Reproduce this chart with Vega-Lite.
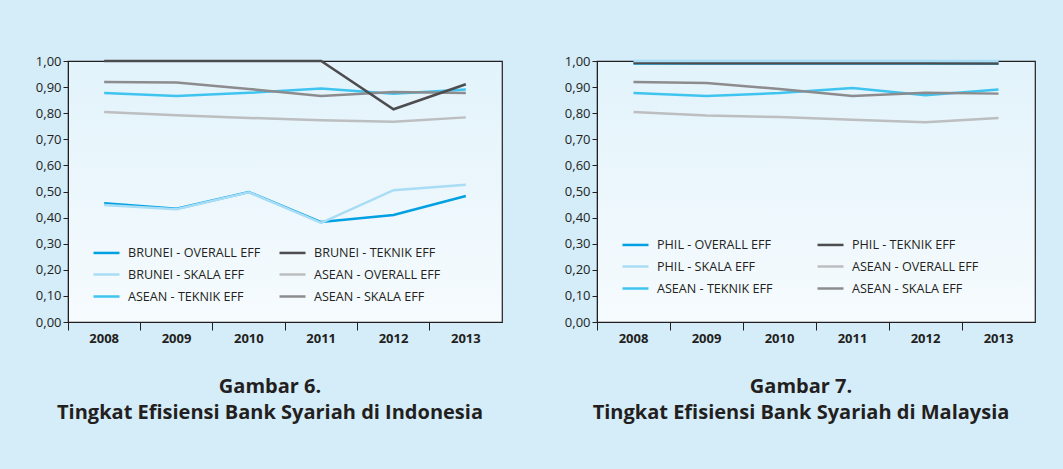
{
  "$schema": "https://vega.github.io/schema/vega-lite/v6.json",
  "background": "#D5ECF9",
  "padding": {"left": 34, "top": 54, "right": 27, "bottom": 47},
  "spacing": 60,
  "config": {
    "font": "Open Sans",
    "view": {"stroke": "#231f20", "strokeWidth": 1.2, "fill": {"gradient": "linear", "x1": 0, "y1": 0, "x2": 0, "y2": 1, "stops": [{"offset": 0, "color": "#E2F3FB"}, {"offset": 1, "color": "#F6FBFE"}]}},
    "axis": {"domainColor": "#231f20", "tickColor": "#231f20", "labelColor": "#231f20", "labelFont": "Open Sans", "grid": false, "title": null, "labelOverlap": false},
    "legend": {"orient": "none", "legendX": 24, "columns": 2, "symbolType": "stroke", "symbolSize": 676, "symbolStrokeWidth": 3, "labelFontSize": 12.6, "labelColor": "#231f20", "labelFont": "Open Sans", "labelOffset": 7, "rowPadding": -7, "padding": 0, "title": null, "labelLimit": 300},
    "title": {"orient": "bottom", "anchor": "middle", "dx": -15, "fontSize": 20, "fontWeight": "bold", "color": "#231f20", "font": "Open Sans", "lineHeight": 26, "offset": 32},
    "line": {"strokeWidth": 2.5}
  },
  "hconcat": [
    {
      "width": 434,
      "height": 261,
      "title": {"text": ["Gambar 6.", "Tingkat Efisiensi Bank Syariah di Indonesia"]},
      "data": {"values": [
        {"year": "2008", "series": "BRUNEI - OVERALL EFF", "value": 0.455},
        {"year": "2009", "series": "BRUNEI - OVERALL EFF", "value": 0.434},
        {"year": "2010", "series": "BRUNEI - OVERALL EFF", "value": 0.498},
        {"year": "2011", "series": "BRUNEI - OVERALL EFF", "value": 0.383},
        {"year": "2012", "series": "BRUNEI - OVERALL EFF", "value": 0.410},
        {"year": "2013", "series": "BRUNEI - OVERALL EFF", "value": 0.483},
        {"year": "2008", "series": "BRUNEI - SKALA EFF", "value": 0.448},
        {"year": "2009", "series": "BRUNEI - SKALA EFF", "value": 0.432},
        {"year": "2010", "series": "BRUNEI - SKALA EFF", "value": 0.497},
        {"year": "2011", "series": "BRUNEI - SKALA EFF", "value": 0.380},
        {"year": "2012", "series": "BRUNEI - SKALA EFF", "value": 0.505},
        {"year": "2013", "series": "BRUNEI - SKALA EFF", "value": 0.526},
        {"year": "2008", "series": "ASEAN - OVERALL EFF", "value": 0.805},
        {"year": "2009", "series": "ASEAN - OVERALL EFF", "value": 0.792},
        {"year": "2010", "series": "ASEAN - OVERALL EFF", "value": 0.782},
        {"year": "2011", "series": "ASEAN - OVERALL EFF", "value": 0.773},
        {"year": "2012", "series": "ASEAN - OVERALL EFF", "value": 0.767},
        {"year": "2013", "series": "ASEAN - OVERALL EFF", "value": 0.784},
        {"year": "2008", "series": "ASEAN - TEKNIK EFF", "value": 0.877},
        {"year": "2009", "series": "ASEAN - TEKNIK EFF", "value": 0.866},
        {"year": "2010", "series": "ASEAN - TEKNIK EFF", "value": 0.878},
        {"year": "2011", "series": "ASEAN - TEKNIK EFF", "value": 0.895},
        {"year": "2012", "series": "ASEAN - TEKNIK EFF", "value": 0.875},
        {"year": "2013", "series": "ASEAN - TEKNIK EFF", "value": 0.891},
        {"year": "2008", "series": "ASEAN - SKALA EFF", "value": 0.920},
        {"year": "2009", "series": "ASEAN - SKALA EFF", "value": 0.918},
        {"year": "2010", "series": "ASEAN - SKALA EFF", "value": 0.893},
        {"year": "2011", "series": "ASEAN - SKALA EFF", "value": 0.866},
        {"year": "2012", "series": "ASEAN - SKALA EFF", "value": 0.881},
        {"year": "2013", "series": "ASEAN - SKALA EFF", "value": 0.877},
        {"year": "2008", "series": "BRUNEI - TEKNIK EFF", "value": 1.0},
        {"year": "2009", "series": "BRUNEI - TEKNIK EFF", "value": 1.0},
        {"year": "2010", "series": "BRUNEI - TEKNIK EFF", "value": 1.0},
        {"year": "2011", "series": "BRUNEI - TEKNIK EFF", "value": 1.0},
        {"year": "2012", "series": "BRUNEI - TEKNIK EFF", "value": 0.815},
        {"year": "2013", "series": "BRUNEI - TEKNIK EFF", "value": 0.911}
      ]},
      "mark": {"type": "line", "clip": false},
      "encoding": {
        "x": {"field": "year", "type": "ordinal", "bandPosition": 0.5, "scale": {"type": "band", "paddingInner": 0, "paddingOuter": 0}, "axis": {"bandPosition": 0, "labelAlign": "center", "labelFontWeight": "bold", "labelFontSize": 13, "labelAngle": 0, "tickSize": 8, "labelPadding": 2}},
        "y": {"field": "value", "type": "quantitative", "scale": {"domain": [0, 1], "nice": false}, "axis": {"values": [0, 0.1, 0.2, 0.3, 0.4, 0.5, 0.6, 0.7, 0.8, 0.9, 1.0], "labelExpr": "replace(format(datum.value, '.2f'), '.', ',')", "labelFontSize": 13, "tickSize": 5, "labelPadding": 2}},
        "color": {"field": "series", "type": "nominal", "scale": {"domain": ["BRUNEI - OVERALL EFF", "BRUNEI - SKALA EFF", "ASEAN - TEKNIK EFF", "BRUNEI - TEKNIK EFF", "ASEAN - OVERALL EFF", "ASEAN - SKALA EFF"], "range": ["#00A0E3", "#A9DDF5", "#3FC4F0", "#4D4D4F", "#BCBEC0", "#8C8C8E"]}, "sort": null, "legend": {"legendY": 177, "columnPadding": 13}}
      }
    },
    {
      "width": 438,
      "height": 261,
      "title": {"text": ["Gambar 7.", "Tingkat Efisiensi Bank Syariah di Malaysia"]},
      "data": {"values": [
        {"year": "2008", "series": "ASEAN - OVERALL EFF", "value": 0.805},
        {"year": "2009", "series": "ASEAN - OVERALL EFF", "value": 0.791},
        {"year": "2010", "series": "ASEAN - OVERALL EFF", "value": 0.785},
        {"year": "2011", "series": "ASEAN - OVERALL EFF", "value": 0.775},
        {"year": "2012", "series": "ASEAN - OVERALL EFF", "value": 0.765},
        {"year": "2013", "series": "ASEAN - OVERALL EFF", "value": 0.782},
        {"year": "2008", "series": "ASEAN - TEKNIK EFF", "value": 0.877},
        {"year": "2009", "series": "ASEAN - TEKNIK EFF", "value": 0.866},
        {"year": "2010", "series": "ASEAN - TEKNIK EFF", "value": 0.877},
        {"year": "2011", "series": "ASEAN - TEKNIK EFF", "value": 0.897},
        {"year": "2012", "series": "ASEAN - TEKNIK EFF", "value": 0.869},
        {"year": "2013", "series": "ASEAN - TEKNIK EFF", "value": 0.891},
        {"year": "2008", "series": "ASEAN - SKALA EFF", "value": 0.920},
        {"year": "2009", "series": "ASEAN - SKALA EFF", "value": 0.916},
        {"year": "2010", "series": "ASEAN - SKALA EFF", "value": 0.893},
        {"year": "2011", "series": "ASEAN - SKALA EFF", "value": 0.866},
        {"year": "2012", "series": "ASEAN - SKALA EFF", "value": 0.878},
        {"year": "2013", "series": "ASEAN - SKALA EFF", "value": 0.875},
        {"year": "2008", "series": "PHIL - OVERALL EFF", "value": 0.99},
        {"year": "2009", "series": "PHIL - OVERALL EFF", "value": 0.99},
        {"year": "2010", "series": "PHIL - OVERALL EFF", "value": 0.99},
        {"year": "2011", "series": "PHIL - OVERALL EFF", "value": 0.99},
        {"year": "2012", "series": "PHIL - OVERALL EFF", "value": 0.99},
        {"year": "2013", "series": "PHIL - OVERALL EFF", "value": 0.99},
        {"year": "2008", "series": "PHIL - TEKNIK EFF", "value": 0.992},
        {"year": "2009", "series": "PHIL - TEKNIK EFF", "value": 0.991},
        {"year": "2010", "series": "PHIL - TEKNIK EFF", "value": 0.991},
        {"year": "2011", "series": "PHIL - TEKNIK EFF", "value": 0.991},
        {"year": "2012", "series": "PHIL - TEKNIK EFF", "value": 0.991},
        {"year": "2013", "series": "PHIL - TEKNIK EFF", "value": 0.99},
        {"year": "2008", "series": "PHIL - SKALA EFF", "value": 1.0},
        {"year": "2009", "series": "PHIL - SKALA EFF", "value": 1.0},
        {"year": "2010", "series": "PHIL - SKALA EFF", "value": 1.0},
        {"year": "2011", "series": "PHIL - SKALA EFF", "value": 1.0},
        {"year": "2012", "series": "PHIL - SKALA EFF", "value": 1.0},
        {"year": "2013", "series": "PHIL - SKALA EFF", "value": 1.0}
      ]},
      "mark": {"type": "line", "clip": false},
      "encoding": {
        "x": {"field": "year", "type": "ordinal", "bandPosition": 0.5, "scale": {"type": "band", "paddingInner": 0, "paddingOuter": 0}, "axis": {"bandPosition": 0, "labelAlign": "center", "labelFontWeight": "bold", "labelFontSize": 13, "labelAngle": 0, "tickSize": 8, "labelPadding": 2}},
        "y": {"field": "value", "type": "quantitative", "scale": {"domain": [0, 1], "nice": false}, "axis": {"values": [0, 0.1, 0.2, 0.3, 0.4, 0.5, 0.6, 0.7, 0.8, 0.9, 1.0], "labelExpr": "replace(format(datum.value, '.2f'), '.', ',')", "labelFontSize": 13, "tickSize": 5, "labelPadding": 2}},
        "color": {"field": "series", "type": "nominal", "scale": {"domain": ["PHIL - OVERALL EFF", "PHIL - SKALA EFF", "ASEAN - TEKNIK EFF", "PHIL - TEKNIK EFF", "ASEAN - OVERALL EFF", "ASEAN - SKALA EFF"], "range": ["#00A0E3", "#A9DDF5", "#3FC4F0", "#4D4D4F", "#BCBEC0", "#8C8C8E"]}, "sort": null, "legend": {"legendY": 169, "columnPadding": 39}}
      }
    }
  ],
  "resolve": {"scale": {"color": "independent"}, "legend": {"color": "independent"}}
}
